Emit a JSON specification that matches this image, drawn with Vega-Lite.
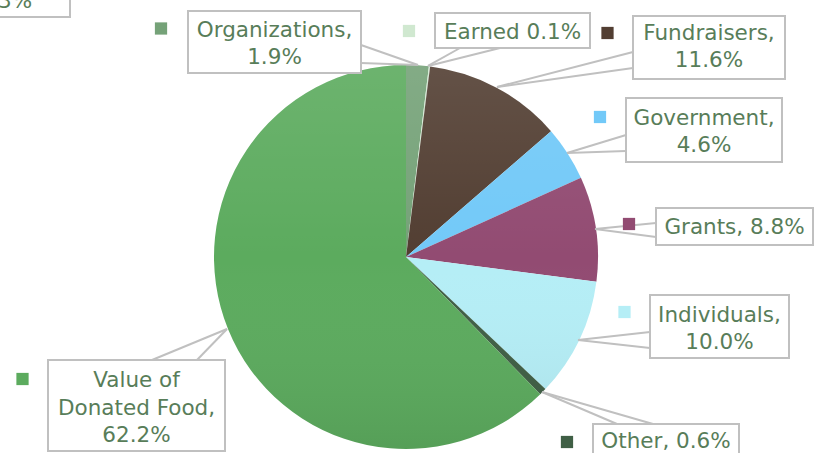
{
  "$schema": "https://vega.github.io/schema/vega-lite/v6.json",
  "width": 822,
  "height": 453,
  "autosize": {"type": "none"},
  "padding": 0,
  "background": "white",
  "config": {"view": {"stroke": null}},
  "datasets": {
    "slices": [
      {"name": "Organizations", "pct": 1.9, "idx": 1},
      {"name": "Earned", "pct": 0.1, "idx": 2},
      {"name": "Fundraisers", "pct": 11.6, "idx": 3},
      {"name": "Government", "pct": 4.6, "idx": 4},
      {"name": "Grants", "pct": 8.8, "idx": 5},
      {"name": "Individuals", "pct": 10.0, "idx": 6},
      {"name": "Other", "pct": 0.6, "idx": 7},
      {"name": "Value of Donated Food", "pct": 62.2, "idx": 8}
    ],
    "callouts": [
      {"name": "Organizations", "label": "Organizations,\n1.9%", "bx1": -1.1354, "bx2": -0.2344, "by1": 1.2813, "by2": 0.9583, "tx": -0.6849, "ty": 1.1458, "sx": -1.276, "sy": 1.1901, "px": 0.0625, "py": 1.0, "ax": -0.2344, "ay": 1.1042, "cx": -0.2344, "cy": 1.0104},
      {"name": "Earned", "label": "Earned 0.1%", "bx1": 0.151, "bx2": 0.9583, "by1": 1.2708, "by2": 1.0885, "tx": 0.5547, "ty": 1.1354, "sx": 0.0156, "sy": 1.1771, "px": 0.1146, "py": 0.9948, "ax": 0.2813, "ay": 1.0885, "cx": 0.4896, "cy": 1.0885},
      {"name": "Fundraisers", "label": "Fundraisers,\n11.6%", "bx1": 1.1823, "bx2": 1.974, "by1": 1.2552, "by2": 0.9271, "tx": 1.5781, "ty": 1.1302, "sx": 1.0495, "sy": 1.1667, "px": 0.474, "py": 0.8854, "ax": 1.1823, "ay": 1.0677, "cx": 1.1823, "cy": 0.9844},
      {"name": "Government", "label": "Government,\n4.6%", "bx1": 1.1458, "bx2": 1.9583, "by1": 0.8281, "by2": 0.4948, "tx": 1.5521, "ty": 0.6875, "sx": 1.0104, "sy": 0.7292, "px": 0.8385, "py": 0.5417, "ax": 1.1458, "ay": 0.6354, "cx": 1.1458, "cy": 0.5521},
      {"name": "Grants", "label": "Grants, 8.8%", "bx1": 1.3021, "bx2": 2.1198, "by1": 0.2552, "by2": 0.0625, "tx": 1.7109, "ty": 0.1198, "sx": 1.1615, "sy": 0.1719, "px": 0.9844, "py": 0.1458, "ax": 1.3021, "ay": 0.1771, "cx": 1.3021, "cy": 0.1042},
      {"name": "Individuals", "label": "Individuals,\n10.0%", "bx1": 1.2708, "bx2": 1.9948, "by1": -0.1979, "by2": -0.526, "tx": 1.6328, "ty": -0.3385, "sx": 1.138, "sy": -0.2865, "px": 0.8958, "py": -0.4323, "ax": 1.2708, "ay": -0.3906, "cx": 1.2708, "cy": -0.474},
      {"name": "Other", "label": "Other, 0.6%", "bx1": 0.974, "bx2": 1.7344, "by1": -0.8698, "by2": -1.1354, "tx": 1.3542, "ty": -0.9948, "sx": 0.8385, "sy": -0.9635, "px": 0.7083, "py": -0.7031, "ax": 1.099, "ay": -0.8698, "cx": 1.2865, "cy": -0.8698},
      {"name": "Value of Donated Food", "label": "Value of\nDonated Food,\n62.2%", "bx1": -1.8646, "bx2": -0.9427, "by1": -0.5365, "by2": -1.0104, "tx": -1.4036, "ty": -0.6771, "sx": -1.9974, "sy": -0.6354, "px": -0.9323, "py": -0.375, "ax": -1.3229, "ay": -0.5365, "cx": -1.0885, "cy": -0.5365},
      {"name": "Fragment", "label": "3%", "bx1": -2.2708, "bx2": -1.75, "by1": 1.5469, "by2": 1.25, "tx": -2.0365, "ty": 1.2969}
    ]
  },
  "encoding": {
    "x": {"type": "quantitative", "scale": {"domain": [-2.1146, 2.1667], "nice": false, "zero": false}, "axis": null},
    "y": {"type": "quantitative", "scale": {"domain": [-1.0208, 1.3385], "nice": false, "zero": false}, "axis": null}
  },
  "layer": [
    {
      "data": {"name": "slices"},
      "mark": {"type": "arc", "outerRadius": 192},
      "encoding": {
        "x": {"datum": 0, "type": "quantitative"},
        "y": {"datum": 0, "type": "quantitative"},
        "theta": {"field": "pct", "type": "quantitative", "stack": true},
        "order": {"field": "idx", "type": "quantitative"},
        "color": {
          "field": "name", "type": "nominal", "legend": null,
          "scale": {
            "domain": ["Organizations", "Earned", "Fundraisers", "Government", "Grants", "Individuals", "Other", "Value of Donated Food"],
            "range": ["#75a278", "#d0e8d0", "#523e32", "#72c9f8", "#924b72", "#b5eef6", "#3f5f45", "#5cab5e"]
          }
        }
      }
    },
    {
      "data": {"name": "slices"},
      "transform": [{"filter": "datum.idx == 1"}],
      "mark": {
        "type": "arc", "outerRadius": 192, "theta": 0, "theta2": 6.2832,
        "fill": {"gradient": "linear", "x1": 0, "y1": 0, "x2": 0, "y2": 1,
          "stops": [{"offset": 0, "color": "rgba(255,255,255,0.10)"}, {"offset": 0.5, "color": "rgba(255,255,255,0)"}, {"offset": 1, "color": "rgba(0,0,0,0.07)"}]}
      },
      "encoding": {
        "x": {"datum": 0, "type": "quantitative"},
        "y": {"datum": 0, "type": "quantitative"}
      }
    },
    {
      "data": {"name": "callouts"},
      "transform": [{"filter": "isValid(datum.px)"}],
      "mark": {"type": "rule", "color": "#c0c0c0", "strokeWidth": 2},
      "encoding": {
        "x": {"field": "px"}, "y": {"field": "py"},
        "x2": {"field": "ax"}, "y2": {"field": "ay"}
      }
    },
    {
      "data": {"name": "callouts"},
      "transform": [{"filter": "isValid(datum.px)"}],
      "mark": {"type": "rule", "color": "#c0c0c0", "strokeWidth": 2},
      "encoding": {
        "x": {"field": "px"}, "y": {"field": "py"},
        "x2": {"field": "cx"}, "y2": {"field": "cy"}
      }
    },
    {
      "data": {"name": "callouts"},
      "mark": {"type": "rect", "fill": "white", "stroke": "#c0c0c0", "strokeWidth": 2},
      "encoding": {
        "x": {"field": "bx1"}, "x2": {"field": "bx2"},
        "y": {"field": "by1"}, "y2": {"field": "by2"}
      }
    },
    {
      "data": {"name": "callouts"},
      "transform": [{"filter": "isValid(datum.sx)"}],
      "mark": {"type": "point", "shape": "square", "filled": true, "size": 150, "opacity": 1},
      "encoding": {
        "x": {"field": "sx"}, "y": {"field": "sy"},
        "color": {"field": "name", "type": "nominal", "legend": null}
      }
    },
    {
      "data": {"name": "callouts"},
      "mark": {"type": "text", "font": "DejaVu Sans", "fontSize": 21.5, "color": "#587d59", "align": "center", "baseline": "alphabetic", "lineBreak": "\n", "lineHeight": 27.5},
      "encoding": {
        "x": {"field": "tx"}, "y": {"field": "ty"},
        "text": {"field": "label"}
      }
    }
  ]
}
